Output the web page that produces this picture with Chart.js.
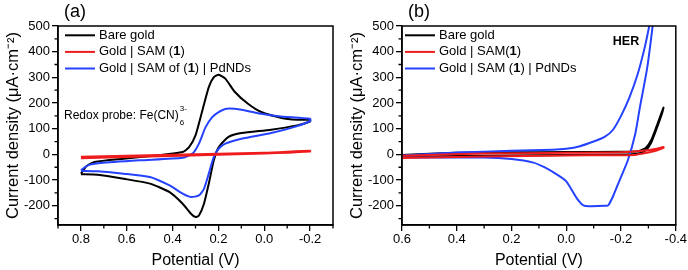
<!DOCTYPE html>
<html>
<head>
<meta charset="utf-8">
<script src="https://cdn.jsdelivr.net/npm/chart.js@4.4.0/dist/chart.umd.min.js"></script>
<style>
  html, body { margin: 0; padding: 0; background: #fff; }
  .panel { position: absolute; top: 0; width: 344px; height: 270px; }
  #pa { left: 0; }
  #pb { left: 344px; }
</style>
</head>
<body>
<div class="panel" id="pa"><canvas id="graphA" width="344" height="270"></canvas></div>
<div class="panel" id="pb"><canvas id="graphB" width="344" height="270"></canvas></div>
<script>
// (a) Fe(CN)6 redox probe - each trace is one closed loop: upper branch then lower branch
const aBareV = [0.80, 0.777, 0.741, 0.613, 0.47, 0.356, 0.328, 0.30, 0.27, 0.242, 0.22, 0.199, 0.17, 0.128, 0.071, 0.013, -0.072, -0.143, -0.2,
                -0.2, -0.143, -0.03, 0.099, 0.156, 0.199, 0.22, 0.242, 0.263, 0.285, 0.30, 0.32, 0.356, 0.413, 0.499, 0.613, 0.727, 0.80];
const aBareI = [-75, -47, -30, -17, -4, 9, 28, 74, 171, 262, 301, 310, 295, 243, 197, 165, 143, 135, 135,
                128, 113, 96, 83, 68, 28, -23, -114, -192, -238, -244, -231, -192, -147, -114, -95, -79, -77];
const aSamV = [0.80, 0.4, 0.0, -0.2, -0.2, 0.0, 0.4, 0.80];
const aSamI = [-9, -1, 6, 14, 11, 3, -6, -15];
const aPdV = [0.80, 0.77, 0.713, 0.542, 0.356, 0.313, 0.285, 0.256, 0.227, 0.199, 0.163, 0.099, 0.013, -0.072, -0.2,
              -0.2, -0.129, -0.03, 0.099, 0.17, 0.199, 0.22, 0.242, 0.263, 0.285, 0.32, 0.356, 0.413, 0.499, 0.613, 0.727, 0.80];
const aPdI = [-62, -43, -34, -23, -13, 3, 42, 106, 145, 165, 178, 174, 158, 148, 139,
              130, 106, 83, 61, 42, 22, -10, -75, -134, -160, -166, -153, -121, -88, -75, -66, -64];

// (b) HER
const bBareV = [0.6, 0.4, 0.2, 0.0, -0.2, -0.26, -0.29, -0.31, -0.33, -0.355,
                -0.35, -0.33, -0.31, -0.29, -0.26, -0.2, 0.0, 0.2, 0.4, 0.6];
const bBareI = [-2, 6, 8, 9, 10, 12, 25, 55, 110, 182,
                160, 100, 45, 15, 3, 0, -2, -4, -6, -10];
const bSamV = [0.6, 0.3, 0.0, -0.2, -0.28, -0.33, -0.355, -0.355, -0.33, -0.29, -0.25, 0.0, 0.3, 0.6];
const bSamI = [-5, 3, 6, 8, 14, 22, 29, 25, 15, 5, -2, -4, -8, -14];
const bPdV = [0.6, 0.4, 0.2, 0.05, 0.0, -0.05, -0.1, -0.14, -0.17, -0.2, -0.23, -0.26, -0.285, -0.303, -0.315,
              -0.322, -0.309, -0.294, -0.269, -0.252, -0.225, -0.195, -0.172, -0.155, -0.148, -0.066, -0.04, 0.0, 0.035, 0.08, 0.12, 0.2, 0.3, 0.6];
const bPdI = [-4, 7, 14, 18, 22, 32, 50, 68, 95, 150, 220, 310, 410, 500, 570,
              570, 444, 327, 184, 80, -23, -100, -160, -196, -200, -200, -173, -105, -78, -50, -32, -18, -12, -12];

const labelsA = ['Bare gold', 'Gold | SAM (**1**)', 'Gold | SAM of (**1**) | PdNDs'];
const labelsB = ['Bare gold', 'Gold | SAM(**1**)', 'Gold | SAM (**1**) | PdNDs'];

const yTicks = [-200, -100, 0, 100, 200, 300, 400, 500];
const yMinor = [-250, -150, -50, 50, 150, 250, 350, 450];
const xTicksA = [0.8, 0.6, 0.4, 0.2, 0.0, -0.2];
const xMinorA = [0.9, 0.7, 0.5, 0.3, 0.1, -0.1, -0.3];
const xTicksB = [0.6, 0.4, 0.2, 0.0, -0.2, -0.4];
const xMinorB = [0.5, 0.3, 0.1, -0.1, -0.3];

const FONT = "'Liberation Sans', Arial, sans-serif";
const colors = ['#000000', '#ee1c1c', '#2442ff'];
const drawOrder = [2, 0, 1];

function pts(V, I) {
    return V.map((v, i) => ({ x: v, y: I[i] }));
}

function drawRich(ctx, str, x, y, size) {
    str.split('**').forEach((part, k) => {
        ctx.font = (k % 2 ? 'bold ' : '') + size + 'px ' + FONT;
        ctx.fillText(part, x, y);
        x += ctx.measureText(part).width;
    });
}

// frame, minor ticks, legend and text notes
const decor = {
    id: 'decor',
    afterDraw(chart, args, opts) {
        const { ctx, chartArea: a, scales: { x, y } } = chart;
        ctx.save();
        ctx.strokeStyle = '#000';
        ctx.lineWidth = 1.5;
        ctx.strokeRect(a.left, a.top, a.right - a.left, a.bottom - a.top);
        ctx.lineWidth = 1.3;
        ctx.beginPath();
        opts.xMinor.forEach(v => {
            const px = x.getPixelForValue(v);
            ctx.moveTo(px, a.bottom);
            ctx.lineTo(px, a.bottom + 3.5);
        });
        yMinor.forEach(v => {
            const py = y.getPixelForValue(v);
            ctx.moveTo(a.left, py);
            ctx.lineTo(a.left - 3.5, py);
        });
        ctx.stroke();

        // legend
        ctx.textBaseline = 'middle';
        ctx.textAlign = 'left';
        ctx.fillStyle = '#000';
        opts.labels.forEach((lab, i) => {
            const ly = a.top + 9.3 + i * 16.6;
            const lx = a.left + opts.legendX;
            ctx.strokeStyle = colors[i];
            ctx.lineWidth = 2;
            ctx.beginPath();
            ctx.moveTo(lx, ly);
            ctx.lineTo(lx + 30, ly);
            ctx.stroke();
            drawRich(ctx, lab, lx + 34, ly, 13);
        });

        opts.notes(ctx);
        ctx.restore();
    }
};

function makeChart(id, series, labels, xMin, xMax, xTicks, xMinor, rightPad, legendX, notes) {
    const ctx = document.getElementById(id).getContext('2d');
    return new Chart(ctx, {
        type: 'scatter',
        data: {
            datasets: series.map((s, i) => ({
                label: labels[i].replace(/\*\*/g, ''),
                data: pts(s[0], s[1]),
                showLine: true,
                borderColor: colors[i],
                backgroundColor: colors[i],
                borderWidth: 2,
                pointRadius: 0,
                tension: 0.2,
                order: drawOrder[i]
            }))
        },
        options: {
            responsive: false,
            animation: false,
            events: [],
            layout: { padding: { top: 26, right: rightPad, bottom: 0, left: 0 } },
            plugins: {
                legend: { display: false },
                tooltip: { enabled: false },
                decor: { labels: labels, xMinor: xMinor, legendX: legendX, notes: notes }
            },
            scales: {
                x: {
                    type: 'linear',
                    min: xMin,
                    max: xMax,
                    reverse: true,
                    afterBuildTicks: s => { s.ticks = xTicks.map(v => ({ value: v })); },
                    afterFit: s => { s.height = 45; },
                    grid: { drawOnChartArea: false, tickLength: 6, color: '#000', lineWidth: 1.3 },
                    border: { color: '#000', width: 1.5 },
                    ticks: {
                        color: '#000', font: { family: FONT, size: 13 }, padding: 1,
                        maxRotation: 0, autoSkip: false,
                        callback: v => Math.abs(v) < 1e-9 ? '0.0' : v.toFixed(1)
                    },
                    title: {
                        display: true, text: 'Potential (V)', color: '#000',
                        font: { family: FONT, size: 16 }, padding: { top: 0, bottom: 0 }
                    }
                },
                y: {
                    type: 'linear',
                    min: -275,
                    max: 500,
                    afterBuildTicks: s => { s.ticks = yTicks.map(v => ({ value: v })); },
                    afterFit: s => { s.width = 58; },
                    grid: { drawOnChartArea: false, tickLength: 6, color: '#000', lineWidth: 1.3 },
                    border: { color: '#000', width: 1.5 },
                    ticks: { color: '#000', font: { family: FONT, size: 13 }, padding: 2 },
                    title: {
                        display: true, text: 'Current density (\u03bcA\u00b7cm\u207b\u00b2)', color: '#000',
                        font: { family: FONT, size: 16.5 }, padding: { top: 4, bottom: 0 }
                    }
                }
            }
        },
        plugins: [decor]
    });
}

makeChart('graphA', [[aBareV, aBareI], [aSamV, aSamI], [aPdV, aPdI]], labelsA,
    -0.3, 0.9, xTicksA, xMinorA, 11, 7, ctx => {
        ctx.fillStyle = '#000';
        ctx.textAlign = 'center';
        ctx.textBaseline = 'middle';
        ctx.font = '18px ' + FONT;
        ctx.fillText('(a)', 75, 12);
        ctx.textAlign = 'left';
        ctx.font = '12px ' + FONT;
        const t = 'Redox probe: Fe(CN)';
        ctx.fillText(t, 64, 116);
        const ex = 64 + ctx.measureText(t).width + 1;
        ctx.font = '8px ' + FONT;
        ctx.fillText('6', ex, 123);
        ctx.fillText('3-', ex, 109);
    });

makeChart('graphB', [[bBareV, bBareI], [bSamV, bSamI], [bPdV, bPdI]], labelsB,
    -0.4, 0.6, xTicksB, xMinorB, 12, 3, ctx => {
        ctx.fillStyle = '#000';
        ctx.textAlign = 'center';
        ctx.textBaseline = 'middle';
        ctx.font = '18px ' + FONT;
        ctx.fillText('(b)', 75, 12);
        ctx.font = 'bold 12.5px ' + FONT;
        ctx.fillText('HER', 282, 42);
    });
</script>
</body>
</html>
